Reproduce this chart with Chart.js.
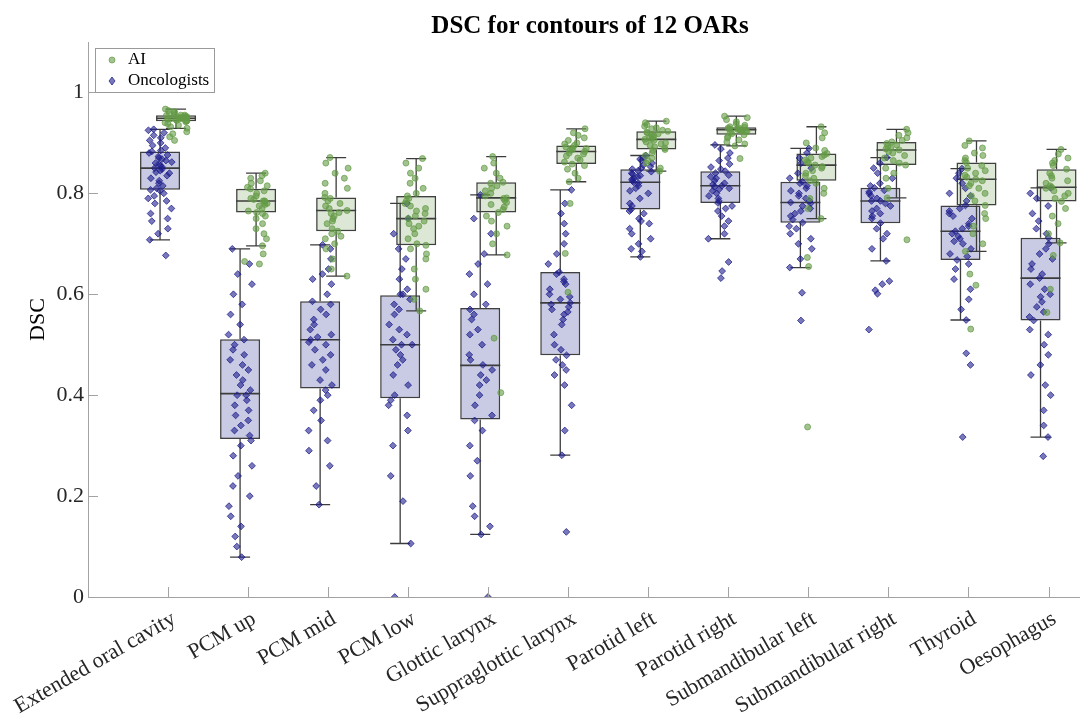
<!DOCTYPE html>
<html><head><meta charset="utf-8">
<script src="https://cdn.jsdelivr.net/npm/chart.js@4.4.1/dist/chart.umd.min.js"></script>
<style>html,body{margin:0;padding:0;overflow:hidden;background:#fff}#wrap{width:1180px;height:718px}</style>
</head><body><div id="wrap"><canvas id="c" width="1180" height="718"></canvas></div>
<script>
const categories = ["Extended oral cavity","PCM up","PCM mid","PCM low","Glottic larynx","Suppraglottic larynx","Parotid left","Parotid right","Submandibular left","Submandibular right","Thyroid","Oesophagus"];
const yTickValues = [0, 0.2, 0.4, 0.6, 0.8, 1];
const chartTitle = "DSC for contours of 12 OARs";
const yTitle = "DSC";

// Box statistics (whisker low, Q1, median, Q3, whisker high)
const oncLow  = [0.708,0.079,0.183,0.106,0.124,0.281,0.674,0.710,0.653,0.666,0.549,0.317];
const oncQ1   = [0.807,0.313,0.413,0.394,0.352,0.479,0.768,0.781,0.742,0.741,0.668,0.548];
const oncMed  = [0.850,0.403,0.510,0.500,0.459,0.583,0.822,0.815,0.782,0.785,0.725,0.632];
const oncQ3   = [0.883,0.511,0.586,0.598,0.573,0.644,0.848,0.844,0.823,0.811,0.776,0.712];
const oncHigh = [0.927,0.690,0.698,0.780,0.797,0.807,0.875,0.896,0.889,0.871,0.849,0.811];

const aiLow  = [0.929,0.696,0.636,0.567,0.678,0.823,0.844,0.894,0.750,0.791,0.685,0.702];
const aiQ1   = [0.943,0.762,0.725,0.697,0.762,0.858,0.887,0.916,0.825,0.856,0.776,0.784];
const aiMed  = [0.949,0.785,0.766,0.750,0.791,0.883,0.907,0.926,0.856,0.886,0.828,0.812];
const aiQ3   = [0.955,0.809,0.792,0.795,0.822,0.895,0.923,0.931,0.879,0.902,0.861,0.848];
const aiHigh = [0.967,0.840,0.871,0.869,0.873,0.928,0.943,0.953,0.932,0.927,0.904,0.887];

// Individual DSC values
const oncPoints = [
 [.677,.708,.72,.73,.745,.75,.76,.77,.78,.785,.79,.795,.80,.805,.807,.81,.815,.82,.825,.83,.835,.84,.842,.845,.848,.85,.852,.855,.858,.86,.862,.865,.868,.87,.873,.876,.88,.883,.885,.89,.895,.90,.905,.91,.915,.92,.925,.927],
 [.079,.10,.12,.14,.16,.18,.20,.22,.24,.26,.28,.30,.31,.32,.33,.34,.35,.36,.37,.38,.39,.40,.40,.41,.42,.43,.44,.45,.46,.47,.48,.49,.50,.51,.52,.54,.56,.58,.60,.62,.64,.66,.69],
 [.183,.22,.26,.29,.31,.33,.35,.37,.39,.40,.41,.42,.43,.45,.46,.47,.48,.49,.50,.505,.51,.515,.52,.53,.54,.55,.56,.57,.58,.586,.60,.62,.63,.64,.65,.67,.69,.698],
 [0,.106,.19,.24,.30,.33,.36,.38,.39,.40,.42,.44,.46,.47,.48,.49,.50,.50,.51,.52,.53,.54,.56,.57,.58,.59,.60,.60,.61,.63,.65,.67,.69,.72,.75,.78],
 [0,.124,.14,.16,.18,.24,.27,.30,.33,.35,.36,.38,.40,.42,.43,.44,.45,.46,.47,.48,.50,.52,.53,.55,.56,.57,.58,.60,.62,.64,.66,.68,.72,.75,.797],
 [.129,.281,.33,.38,.42,.44,.45,.46,.47,.479,.49,.50,.52,.54,.55,.56,.565,.57,.575,.58,.583,.59,.595,.60,.61,.62,.625,.63,.64,.644,.66,.68,.70,.72,.74,.76,.78,.807],
 [.674,.685,.69,.70,.71,.72,.73,.74,.745,.75,.76,.765,.768,.775,.78,.79,.80,.805,.81,.815,.82,.822,.825,.828,.83,.833,.835,.838,.84,.843,.845,.848,.85,.853,.856,.86,.865,.868,.87,.875],
 [.632,.646,.664,.71,.72,.735,.745,.755,.765,.77,.775,.781,.785,.79,.795,.80,.805,.808,.81,.813,.815,.818,.82,.825,.83,.833,.836,.84,.844,.848,.852,.858,.865,.87,.88,.888,.896],
 [.548,.603,.653,.67,.69,.70,.71,.72,.73,.735,.742,.748,.755,.76,.765,.77,.775,.78,.782,.785,.79,.795,.80,.805,.81,.815,.82,.823,.83,.84,.85,.86,.87,.88,.889],
 [.530,.601,.608,.620,.626,.666,.69,.71,.72,.73,.741,.75,.755,.76,.765,.77,.775,.78,.785,.785,.79,.795,.80,.803,.806,.811,.815,.82,.83,.84,.85,.86,.871],
 [.317,.460,.483,.549,.57,.59,.61,.63,.65,.66,.668,.675,.68,.69,.70,.705,.71,.715,.72,.725,.73,.735,.74,.75,.755,.76,.765,.77,.776,.785,.795,.80,.81,.82,.83,.84,.849],
 [.279,.317,.34,.37,.40,.42,.44,.46,.48,.50,.52,.53,.548,.555,.565,.575,.585,.595,.60,.61,.62,.632,.64,.65,.66,.67,.68,.69,.70,.712,.72,.73,.745,.76,.775,.79,.80,.811]
];
const aiPoints = [
 [.905,.912,.918,.922,.929,.932,.935,.938,.94,.942,.943,.944,.945,.946,.947,.948,.948,.949,.949,.95,.95,.951,.952,.953,.954,.955,.955,.956,.958,.96,.962,.964,.967],
 [.66,.665,.68,.696,.71,.72,.73,.74,.75,.755,.76,.762,.765,.77,.775,.778,.78,.782,.785,.785,.788,.79,.795,.80,.805,.809,.812,.815,.82,.825,.83,.835,.84],
 [.636,.65,.67,.69,.70,.71,.715,.72,.725,.73,.74,.745,.75,.755,.76,.762,.766,.77,.775,.78,.785,.79,.792,.80,.81,.82,.83,.84,.85,.86,.871],
 [.567,.59,.61,.63,.65,.67,.68,.69,.697,.70,.71,.72,.73,.735,.74,.745,.75,.755,.76,.765,.77,.775,.78,.785,.79,.795,.80,.81,.82,.83,.84,.85,.86,.869],
 [.405,.513,.678,.70,.72,.735,.745,.755,.762,.768,.773,.778,.782,.786,.79,.791,.795,.80,.805,.81,.815,.82,.822,.83,.84,.85,.86,.873],
 [.604,.681,.78,.823,.83,.84,.848,.855,.858,.862,.866,.87,.874,.878,.88,.883,.885,.887,.889,.89,.892,.895,.898,.90,.905,.91,.915,.92,.928],
 [.844,.85,.86,.865,.87,.875,.88,.885,.887,.89,.892,.895,.898,.90,.902,.905,.907,.908,.91,.912,.914,.916,.918,.92,.921,.923,.925,.928,.93,.933,.936,.94,.943],
 [.869,.894,.898,.902,.906,.91,.913,.916,.918,.92,.922,.923,.924,.925,.926,.926,.927,.928,.929,.93,.931,.932,.935,.938,.942,.946,.95,.953],
 [.337,.655,.673,.75,.77,.79,.80,.81,.82,.825,.83,.835,.84,.845,.85,.853,.856,.86,.863,.866,.87,.873,.876,.879,.885,.89,.90,.91,.92,.932],
 [.708,.791,.81,.83,.84,.85,.856,.86,.865,.87,.875,.88,.883,.886,.888,.89,.893,.896,.899,.902,.905,.91,.915,.92,.927],
 [.531,.618,.640,.685,.70,.72,.735,.75,.76,.776,.785,.795,.80,.81,.815,.82,.825,.828,.832,.836,.84,.845,.85,.855,.861,.865,.87,.875,.88,.89,.895,.904],
 [.564,.610,.677,.702,.72,.74,.755,.77,.784,.79,.795,.80,.805,.81,.812,.815,.82,.825,.83,.835,.84,.848,.855,.86,.865,.87,.878,.887]
];

// ---- layout helpers (positions only) ----
const ONC_OFF = -0.1, AI_OFF = 0.1, BOX_HALF = 0.25, CAP_HALF = 0.125, JIT = 0.3;
function jitter(g, k, s) {
  const h = Math.sin((g + 1) * 12.9898 + (k + 1) * 78.233 + s * 37.719) * 43758.5453;
  return (h - Math.floor(h) - 0.5) * JIT;
}
const serif = "'Liberation Serif','Times New Roman',serif";
const axisColor = '#a3a3a3';
const textColor = '#262626';

const oncBoxData = categories.map((c, i) => ({x: i + 1 + ONC_OFF, y: [oncQ1[i], oncQ3[i]]}));
const aiBoxData  = categories.map((c, i) => ({x: i + 1 + AI_OFF,  y: [aiQ1[i], aiQ3[i]]}));
const oncPtData = [], aiPtData = [];
oncPoints.forEach((arr, g) => arr.forEach((v, k) => oncPtData.push({x: g + 1 + ONC_OFF + jitter(g, k, 0), y: v})));
aiPoints.forEach((arr, g) => arr.forEach((v, k) => aiPtData.push({x: g + 1 + AI_OFF + jitter(g, k, 1), y: v})));

const whiskerPlugin = {
  id: 'whiskers',
  afterDatasetDraw(chart, args) {
    if (chart.data.datasets[args.index].id !== 'aiBox') return;
    const ctx = chart.ctx, xs = chart.scales.x, ys = chart.scales.y;
    ctx.save();
    ctx.strokeStyle = '#3c3c3c';
    const groups = [[ONC_OFF, oncLow, oncQ1, oncMed, oncQ3, oncHigh], [AI_OFF, aiLow, aiQ1, aiMed, aiQ3, aiHigh]];
    groups.forEach(([off, lo, q1, md, q3, hi]) => {
      categories.forEach((c, i) => {
        const cx = xs.getPixelForValue(i + 1 + off);
        const bl = xs.getPixelForValue(i + 1 + off - BOX_HALF), br = xs.getPixelForValue(i + 1 + off + BOX_HALF);
        const cl = xs.getPixelForValue(i + 1 + off - CAP_HALF), cr = xs.getPixelForValue(i + 1 + off + CAP_HALF);
        ctx.lineWidth = 1.3;
        ctx.beginPath();
        ctx.moveTo(cx, ys.getPixelForValue(q3[i])); ctx.lineTo(cx, ys.getPixelForValue(hi[i]));
        ctx.moveTo(cx, ys.getPixelForValue(q1[i])); ctx.lineTo(cx, ys.getPixelForValue(lo[i]));
        ctx.moveTo(cl, ys.getPixelForValue(hi[i])); ctx.lineTo(cr, ys.getPixelForValue(hi[i]));
        ctx.moveTo(cl, ys.getPixelForValue(lo[i])); ctx.lineTo(cr, ys.getPixelForValue(lo[i]));
        ctx.stroke();
        ctx.lineWidth = 1.6;
        ctx.beginPath();
        ctx.moveTo(bl, ys.getPixelForValue(md[i])); ctx.lineTo(br, ys.getPixelForValue(md[i]));
        ctx.stroke();
      });
    });
    ctx.restore();
  }
};

const decorPlugin = {
  id: 'decor',
  afterDraw(chart) {
    const ctx = chart.ctx, xs = chart.scales.x, ys = chart.scales.y, a = chart.chartArea;
    ctx.save();
    ctx.strokeStyle = axisColor; ctx.lineWidth = 1;
    ctx.beginPath();
    ys.ticks.forEach(t => { const y = Math.round(ys.getPixelForValue(t.value)) + 0.5; ctx.moveTo(a.left, y); ctx.lineTo(a.left + 10, y); });
    xs.ticks.forEach(t => { const x = Math.round(xs.getPixelForValue(t.value)) + 0.5; ctx.moveTo(x, a.bottom); ctx.lineTo(x, a.bottom - 10); });
    ctx.stroke();
    const lx = 95.5, ly = 48.5, lw = 119, lh = 44;
    ctx.fillStyle = '#fff'; ctx.fillRect(lx, ly, lw, lh);
    ctx.strokeStyle = '#9a9a9a'; ctx.strokeRect(lx, ly, lw, lh);
    const items = [chart.data.datasets[3], chart.data.datasets[2]];
    items.forEach((ds, i) => {
      const my = 60 + i * 21;
      ctx.fillStyle = ds.backgroundColor; ctx.strokeStyle = ds.borderColor; ctx.lineWidth = 1;
      ctx.beginPath();
      if (ds.pointStyle === 'rectRot') { ctx.moveTo(112, my - 4); ctx.lineTo(115, my); ctx.lineTo(112, my + 4); ctx.lineTo(109, my); ctx.closePath(); }
      else { ctx.arc(112, my, 3, 0, Math.PI * 2); }
      ctx.fill(); ctx.stroke();
      ctx.fillStyle = '#000'; ctx.font = "17px " + serif; ctx.textBaseline = 'middle'; ctx.textAlign = 'left';
      ctx.fillText(ds.label, 128, my);
    });
    ctx.restore();
  }
};

new Chart(document.getElementById('c'), {
  type: 'bar',
  data: {
    datasets: [
      {id: 'oncBox', label: 'Oncologists box', data: oncBoxData, backgroundColor: 'rgba(165,168,210,0.6)', borderColor: '#404040', borderWidth: 1.5, borderSkipped: false, grouped: false, categoryPercentage: 1, barPercentage: 2.5, order: 5},
      {id: 'aiBox', label: 'AI box', data: aiBoxData, backgroundColor: 'rgba(185,207,171,0.5)', borderColor: '#404040', borderWidth: 1.5, borderSkipped: false, grouped: false, categoryPercentage: 1, barPercentage: 2.5, order: 4},
      {type: 'scatter', label: 'Oncologists', data: oncPtData, pointStyle: 'rectRot', pointRadius: 3.4, backgroundColor: 'rgba(30,30,140,0.6)', borderColor: 'rgba(30,30,140,0.75)', borderWidth: 1, order: 2},
      {type: 'scatter', label: 'AI', data: aiPtData, pointStyle: 'circle', pointRadius: 3, backgroundColor: 'rgba(100,155,70,0.6)', borderColor: 'rgba(100,155,70,0.7)', borderWidth: 1, order: 1}
    ]
  },
  options: {
    responsive: false, animation: false, devicePixelRatio: 1,
    layout: {padding: 0},
    plugins: {
      legend: {display: false}, tooltip: {enabled: false},
      title: {display: true, text: chartTitle, color: '#000', font: {family: serif, size: 25, weight: 'bold'}, padding: {top: 12, bottom: 0}}
    },
    scales: {
      x: {
        type: 'linear', min: 0, max: 13.58, offset: false,
        grid: {display: false, drawTicks: false}, border: {display: true, color: axisColor},
        afterBuildTicks: s => { s.ticks = categories.map((c, i) => ({value: i + 1})); },
        afterFit: s => { s.height = 121; s.paddingLeft = 0; s.paddingRight = 0; },
        ticks: {autoSkip: false, minRotation: 30, maxRotation: 30, padding: 9, labelOffset: 6, color: textColor, font: {family: serif, size: 22},
          callback: v => categories[Math.round(v) - 1]}
      },
      y: {
        min: 0, max: 1.1,
        grid: {display: false, drawTicks: false}, border: {display: true, color: axisColor},
        afterBuildTicks: s => { s.ticks = yTickValues.map(v => ({value: v})); },
        afterFit: s => { s.width = 88; s.paddingTop = 0; s.paddingBottom = 0; },
        ticks: {padding: 4, color: textColor, font: {family: serif, size: 22}, callback: v => String(+v.toFixed(1))},
        title: {display: true, text: yTitle, color: '#000', font: {family: serif, size: 22}, padding: {top: 25, bottom: 0}}
      }
    }
  },
  plugins: [whiskerPlugin, decorPlugin]
});
</script></body></html>
